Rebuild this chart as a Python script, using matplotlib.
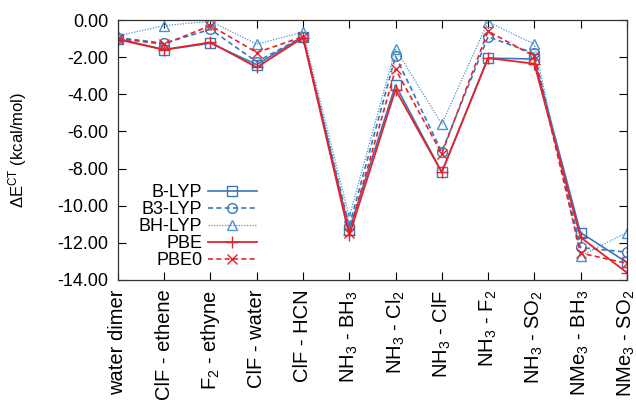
import matplotlib

matplotlib.use("Agg")
import matplotlib.pyplot as plt

plt.rcParams["font.family"] = ["Liberation Sans", "DejaVu Sans"]
plt.rcParams["mathtext.fontset"] = "custom"
plt.rcParams["mathtext.rm"] = "Liberation Sans"
plt.rcParams["mathtext.it"] = "Liberation Sans"

# complexes along the x axis
systems = [
	"water dimer",
	"ClF - ethene",
	"F$_2$ - ethyne",
	"ClF - water",
	"ClF - HCN",
	"NH$_3$ - BH$_3$",
	"NH$_3$ - Cl$_2$",
	"NH$_3$ - ClF",
	"NH$_3$ - F$_2$",
	"NH$_3$ - SO$_2$",
	"NMe$_3$ - BH$_3$",
	"NMe$_3$ - SO$_2$",
]

# charge-transfer energies (kcal/mol)
b_lyp = [-1.00, -1.60, -1.25, -2.40, -0.90, -11.30, -3.50, -8.20, -2.05, -2.10, -11.45, -13.05]
b3_lyp = [-0.95, -1.25, -0.50, -2.25, -0.90, -11.10, -1.95, -7.10, -0.90, -1.80, -12.25, -12.50]
bh_lyp = [-0.85, -0.30, -0.07, -1.30, -0.65, -10.60, -1.55, -5.60, -0.10, -1.30, -12.70, -11.45]
pbe = [-1.05, -1.60, -1.20, -2.55, -0.95, -11.60, -3.75, -8.20, -2.05, -2.35, -11.70, -13.60]
pbe0 = [-1.00, -1.30, -0.30, -1.75, -0.90, -11.45, -2.65, -7.20, -0.60, -1.95, -12.55, -13.10]
yticks = [0, -2, -4, -6, -8, -10, -12, -14]

blue = "#3a78b8"
light_blue = "#4b93cf"
red = "#e3232c"

fig = plt.figure(figsize=(6.36, 4.12), dpi=100)
ax = fig.add_axes([0.1855, 0.3204, 0.800, 0.631])

x = list(range(len(systems)))
ax.plot(x, b_lyp, color=blue, lw=1.2, ls="-", marker="s", ms=7, mfc="none", mew=1.0, label="B-LYP")
ax.plot(x, b3_lyp, color=blue, lw=1.2, ls=(0, (3, 2)), marker="o", ms=7, mfc="none", mew=1.0, label="B3-LYP")
ax.plot(x, bh_lyp, color=light_blue, lw=0.9, ls=(0, (1, 1.2)), marker="^", ms=7, mfc="none", mew=1.0, label="BH-LYP")
ax.plot(x, pbe, color=red, lw=1.3, ls="-", marker="+", ms=9, mew=1.0, label="PBE")
ax.plot(x, pbe0, color=red, lw=1.2, ls=(0, (3, 2)), marker="x", ms=7, mew=1.0, label="PBE0")

ax.set_xlim(0, len(systems) - 1)
ax.set_ylim(-14, 0)
ax.set_yticks(yticks)
ax.set_yticklabels([f"{v:.2f}" for v in yticks])
ax.set_xticks(x)
ax.set_xticklabels(systems, rotation=90)
ax.tick_params(direction="in", top=True, right=True, length=6, width=0.8, pad=7)
ax.tick_params(axis="y", labelsize=13)
ax.tick_params(axis="x", labelsize=14.5)
ax.set_ylabel("$\\Delta$E$^{\\mathrm{CT}}$ (kcal/mol)", fontsize=12, labelpad=20)
for spine in ax.spines.values():
	spine.set_linewidth(0.9)
	spine.set_color("#333333")

ax.legend(
	loc="lower left",
	bbox_to_anchor=(0.02, 0.0),
	markerfirst=False,
	frameon=False,
	fontsize=13,
	handlelength=2.7,
	handletextpad=0.3,
	labelspacing=0.0,
	borderaxespad=0.2,
)

fig.savefig("out.png", dpi=100, facecolor="white")
